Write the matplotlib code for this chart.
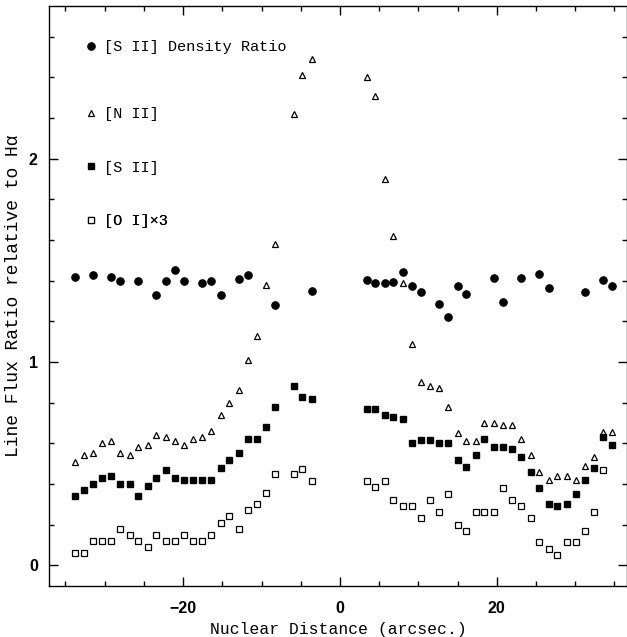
import matplotlib
matplotlib.use("Agg")
import matplotlib.pyplot as plt
from matplotlib.ticker import MultipleLocator

# density ratio [S II] (filled circles)
x_dens = [-33.8, -31.5, -29.2, -28.0, -25.7, -23.4, -22.2, -21.0, -19.9, -17.6,
          -16.4, -15.2, -12.9, -11.7, -8.3, -3.6,
          3.4, 4.5, 5.7, 6.8, 8.0, 9.2, 10.3, 12.6, 13.8, 15.0, 16.1, 19.6, 20.8,
          23.1, 25.4, 26.6, 31.2, 33.5, 34.7]
dens = [1.42, 1.43, 1.42, 1.40, 1.40, 1.33, 1.40, 1.45, 1.40, 1.39,
        1.40, 1.33, 1.41, 1.43, 1.28, 1.35,
        1.405, 1.387, 1.387, 1.395, 1.444, 1.375, 1.345, 1.286, 1.219, 1.375,
        1.334, 1.415, 1.295, 1.415, 1.434, 1.365, 1.343, 1.403, 1.374]

# positions shared by [N II] and [S II]
x_lines = [-33.8, -32.6, -31.5, -30.3, -29.2, -28.0, -26.8, -25.7, -24.5, -23.4,
           -22.2, -21.0, -19.9, -18.7, -17.6, -16.4, -15.2, -14.1, -12.9, -11.7,
           -10.6, -9.4, -8.3, -5.9, -4.8, -3.6,
           3.4, 4.5, 5.7, 6.8, 8.0, 9.2, 10.3, 11.5, 12.6, 13.8, 15.0, 16.1, 17.3,
           18.4, 19.6, 20.8, 21.9, 23.1, 24.3, 25.4, 26.6, 27.7, 28.9, 30.1, 31.2,
           32.4, 33.5, 34.7]
n2 = [0.51, 0.54, 0.55, 0.60, 0.61, 0.55, 0.54, 0.58, 0.59, 0.64,
      0.63, 0.61, 0.59, 0.62, 0.63, 0.66, 0.74, 0.80, 0.86, 1.01,
      1.13, 1.38, 1.58, 2.22, 2.41, 2.49,
      2.40, 2.31, 1.90, 1.62, 1.39, 1.09, 0.90, 0.88, 0.87, 0.78, 0.65, 0.61, 0.61,
      0.70, 0.70, 0.69, 0.69, 0.62, 0.54, 0.46, 0.42, 0.44, 0.44, 0.42, 0.49,
      0.53, 0.655, 0.655]
s2 = [0.34, 0.37, 0.40, 0.43, 0.44, 0.40, 0.40, 0.34, 0.39, 0.43,
      0.47, 0.43, 0.42, 0.42, 0.42, 0.42, 0.48, 0.52, 0.55, 0.62,
      0.62, 0.68, 0.78, 0.88, 0.83, 0.82,
      0.77, 0.77, 0.74, 0.73, 0.72, 0.60, 0.615, 0.615, 0.60, 0.60, 0.52, 0.485, 0.54,
      0.62, 0.58, 0.58, 0.57, 0.53, 0.46, 0.38, 0.30, 0.29, 0.30, 0.35, 0.42,
      0.48, 0.63, 0.59]

# [O I] x 3 (open squares)
x_o1 = [-33.8, -32.6, -31.5, -30.3, -29.2, -28.0, -26.8, -25.7, -24.5, -23.4,
        -22.2, -21.0, -19.9, -18.7, -17.6, -16.4, -15.2, -14.1, -12.9, -11.7,
        -10.6, -9.4, -8.3, -5.9, -4.8, -3.6,
        3.4, 4.5, 5.7, 6.8, 8.0, 9.2, 10.3, 11.5, 12.6, 13.8, 15.0, 16.1, 17.3,
        18.4, 19.6, 20.8, 21.9, 23.1, 24.3, 25.4, 26.6, 27.7, 28.9, 30.1, 31.2,
        32.4, 33.5]
o1 = [0.06, 0.06, 0.12, 0.12, 0.12, 0.18, 0.15, 0.12, 0.09, 0.15,
      0.12, 0.12, 0.15, 0.12, 0.12, 0.15, 0.21, 0.24, 0.18, 0.27,
      0.30, 0.355, 0.45, 0.45, 0.475, 0.415,
      0.415, 0.385, 0.415, 0.32, 0.29, 0.29, 0.23, 0.32, 0.26, 0.35, 0.20, 0.17, 0.26,
      0.26, 0.26, 0.38, 0.32, 0.29, 0.23, 0.115, 0.08, 0.05, 0.115, 0.115, 0.17,
      0.26, 0.47]

labels = ["[S II] Density Ratio", "[N II]", "[S II]", "[O I]\u00d73"]
legend_y = [0.929, 0.813, 0.721, 0.629]   # vertical place of each legend row (axes fraction)

serif = ["Liberation Mono", "DejaVu Sans Mono"]

fig = plt.figure(figsize=(6.27, 6.37), dpi=100)
ax = fig.add_axes([0.0781, 0.0801, 0.9219, 0.9105])

h1, = ax.plot(x_dens, dens, 'o', color='black', ms=5.2, ls='none')
h2, = ax.plot(x_lines, n2, '^', mfc='white', mec='black', mew=0.9, ms=4.3, ls='none')
h3, = ax.plot(x_lines, s2, 's', color='black', ms=4.3, ls='none')
h4, = ax.plot(x_o1, o1, 's', mfc='white', mec='black', mew=0.9, ms=4.0, ls='none')

ax.set_xlim(-37.1, 36.6)
ax.set_ylim(-0.102, 2.751)

ax.xaxis.set_major_locator(MultipleLocator(20))
ax.xaxis.set_minor_locator(MultipleLocator(5))
ax.yaxis.set_major_locator(MultipleLocator(1))
ax.yaxis.set_minor_locator(MultipleLocator(0.2))
ax.tick_params(which='both', direction='in', top=True, right=True, width=1.0)
ax.tick_params(which='major', length=6.5)
ax.tick_params(which='minor', length=3.5)
ax.tick_params(axis='x', which='major', pad=11)
ax.tick_params(axis='y', which='major', pad=8)
for lab in ax.get_xticklabels() + ax.get_yticklabels():
    lab.set_fontfamily("Liberation Sans")
    lab.set_fontweight("bold")
    lab.set_fontsize(11.5)

for sp in ax.spines.values():
    sp.set_linewidth(1.0)

ax.set_xlabel("Nuclear Distance (arcsec.)", family=serif, fontsize=11.8, labelpad=4)
ax.set_ylabel("Line Flux Ratio relative to H\u03b1", family=serif, fontsize=13, labelpad=5)

# one legend per row so the uneven row spacing of the original can be kept
for h, lab, yy in zip([h1, h2, h3, h4], labels, legend_y):
    leg = ax.legend([h], [lab], loc='center left', bbox_to_anchor=(0.064, yy),
                    frameon=False, borderpad=0, borderaxespad=0,
                    handlelength=0.6, handletextpad=0.55,
                    prop={'family': serif, 'size': 11})
    ax.add_artist(leg)

fig.savefig("out.png", dpi=100)
